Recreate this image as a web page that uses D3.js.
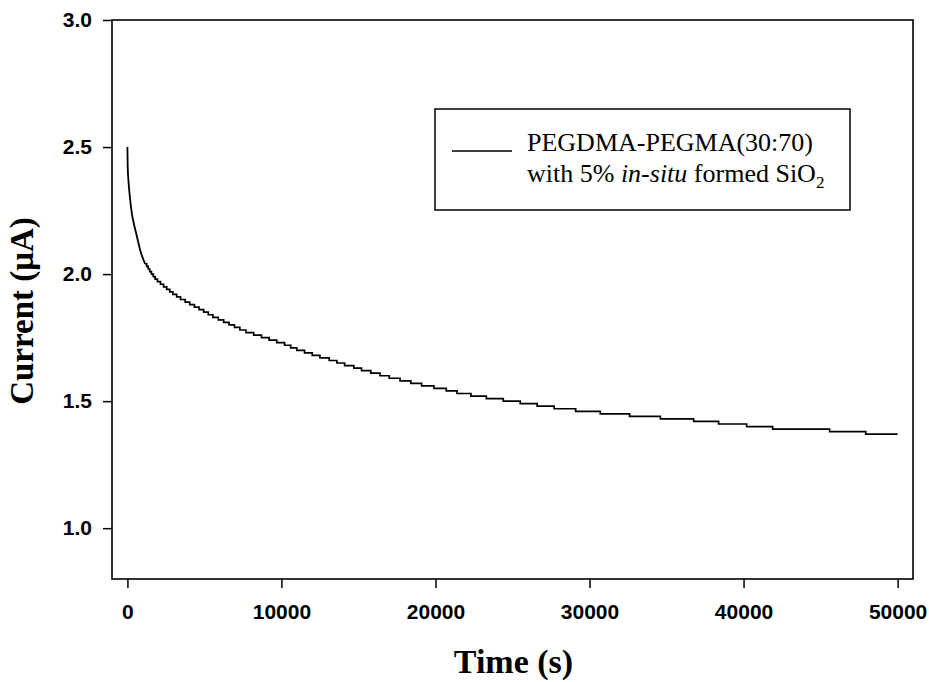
<!DOCTYPE html>
<html>
<head>
<meta charset="utf-8">
<script src="https://cdn.jsdelivr.net/npm/d3@7"></script>
<style>
  html, body { margin: 0; padding: 0; background: #fff; }
  svg { display: block; }
</style>
</head>
<body>
<svg id="chart" width="929" height="682"></svg>
<script>
// Chronoamperometry of PEGDMA-PEGMA(30:70) gel with 5% in-situ SiO2

// Initial decay (s, µA), drawn smooth
const earlyTime    = [0, 20, 65, 150, 286, 450, 611, 850, 1150];
const earlyCurrent = [2.50, 2.42, 2.37, 2.31, 2.24, 2.19, 2.15, 2.09, 2.04];

// Later decay, where the recorded current changes in 0.01 µA steps:
// time at which each level is first reached (s) and the level (µA)
const stepTime = [
  1150, 1250, 1350, 1450, 1560, 1680, 1800, 1950, 2150, 2350, 2550,
  2750, 2950, 3200, 3450, 3750, 4050, 4350, 4650, 4950, 5250,
  5550, 5900, 6250, 6600, 6950, 7300, 7700, 8200, 8700, 9200,
  9700, 10200, 10600, 11000, 11500, 12000, 12500, 13100, 13600, 14100,
  14700, 15200, 15800, 16400, 17000, 17700, 18400, 19100, 19900, 20700,
  21400, 22300, 23300, 24400, 25500, 26600, 27700, 29100, 30700, 32600,
  34600, 36760, 38380, 40200, 41890, 45590, 47930, 50000
];
const stepCurrent = [
  2.04, 2.03, 2.02, 2.01, 2.00, 1.99, 1.98, 1.97, 1.96, 1.95, 1.94,
  1.93, 1.92, 1.91, 1.90, 1.89, 1.88, 1.87, 1.86, 1.85, 1.84,
  1.83, 1.82, 1.81, 1.80, 1.79, 1.78, 1.77, 1.76, 1.75, 1.74,
  1.73, 1.72, 1.71, 1.70, 1.69, 1.68, 1.67, 1.66, 1.65, 1.64,
  1.63, 1.62, 1.61, 1.60, 1.59, 1.58, 1.57, 1.56, 1.55, 1.54,
  1.53, 1.52, 1.51, 1.50, 1.49, 1.48, 1.47, 1.46, 1.45, 1.44,
  1.43, 1.42, 1.41, 1.40, 1.39, 1.38, 1.37, 1.37
];

const xTicks = [0, 10000, 20000, 30000, 40000, 50000];
const yTicks = [1.0, 1.5, 2.0, 2.5, 3.0];

const svg = d3.select("#chart");
const margin = { left: 112, right: 16, top: 20, bottom: 103 };
const W = 929, H = 682;

const x = d3.scaleLinear().domain([-1000, 51000]).range([margin.left, W - margin.right]);
const y = d3.scaleLinear().domain([0.8, 3.0]).range([H - margin.bottom, margin.top]);

const tickFont = "'Liberation Sans', Arial, sans-serif";
const serif = "'Liberation Serif', 'Times New Roman', serif";

// Frame
svg.append("rect")
  .attr("x", x.range()[0]).attr("y", y.range()[1])
  .attr("width", x.range()[1] - x.range()[0])
  .attr("height", y.range()[0] - y.range()[1])
  .attr("fill", "none").attr("stroke", "#000").attr("stroke-width", 1.6);

// X axis
const xAxis = svg.append("g")
  .attr("transform", `translate(0,${y.range()[0]})`)
  .call(d3.axisBottom(x).tickValues(xTicks).tickSize(9).tickPadding(16).tickFormat(d3.format("d")));
xAxis.select(".domain").remove();
xAxis.selectAll(".tick line").attr("stroke", "#000").attr("stroke-width", 1.5);
xAxis.selectAll(".tick text")
  .attr("font-family", tickFont).attr("font-weight", "bold")
  .attr("font-size", 21).attr("fill", "#000");

// Y axis
const yAxis = svg.append("g")
  .attr("transform", `translate(${x.range()[0]},0)`)
  .call(d3.axisLeft(y).tickValues(yTicks).tickSize(9).tickPadding(11).tickFormat(d3.format(".1f")));
yAxis.select(".domain").remove();
yAxis.selectAll(".tick line").attr("stroke", "#000").attr("stroke-width", 1.5);
yAxis.selectAll(".tick text")
  .attr("font-family", tickFont).attr("font-weight", "bold")
  .attr("font-size", 21).attr("fill", "#000");

// Axis titles
svg.append("text")
  .attr("x", (x.range()[0] + x.range()[1]) / 2 + 1).attr("y", 673)
  .attr("text-anchor", "middle")
  .attr("font-family", serif).attr("font-weight", "bold").attr("font-size", 34)
  .text("Time (s)");

svg.append("text")
  .attr("transform", `translate(33,311) rotate(-90)`)
  .attr("text-anchor", "middle")
  .attr("font-family", serif).attr("font-weight", "bold").attr("font-size", 33)
  .text("Current (\u03BCA)");

// Curve
const early = earlyTime.map((t, i) => [t, earlyCurrent[i]]);
const steps = stepTime.map((t, i) => [t, stepCurrent[i]]);

svg.append("path")
  .datum(early)
  .attr("fill", "none").attr("stroke", "#000").attr("stroke-width", 1.8)
  .attr("d", d3.line().x(d => x(d[0])).y(d => y(d[1])).curve(d3.curveMonotoneX));

svg.append("path")
  .datum(steps)
  .attr("fill", "none").attr("stroke", "#000").attr("stroke-width", 1.7)
  .attr("d", d3.line().x(d => x(d[0])).y(d => y(d[1])).curve(d3.curveStepAfter));

// Legend
const lg = svg.append("g");
lg.append("rect")
  .attr("x", 435).attr("y", 109).attr("width", 415).attr("height", 101)
  .attr("fill", "#fff").attr("stroke", "#000").attr("stroke-width", 1.5);
lg.append("line")
  .attr("x1", 452).attr("x2", 512).attr("y1", 151).attr("y2", 151)
  .attr("stroke", "#000").attr("stroke-width", 1.3);
lg.append("text")
  .attr("x", 527).attr("y", 151)
  .attr("font-family", serif).attr("font-size", 26)
  .text("PEGDMA-PEGMA(30:70)");
const l2 = lg.append("text")
  .attr("x", 527).attr("y", 182)
  .attr("font-family", serif).attr("font-size", 26);
l2.append("tspan").text("with 5% ");
l2.append("tspan").attr("font-style", "italic").text("in-situ");
l2.append("tspan").text(" formed SiO");
l2.append("tspan").attr("font-size", 17).attr("dy", 6).text("2");
</script>
</body>
</html>
